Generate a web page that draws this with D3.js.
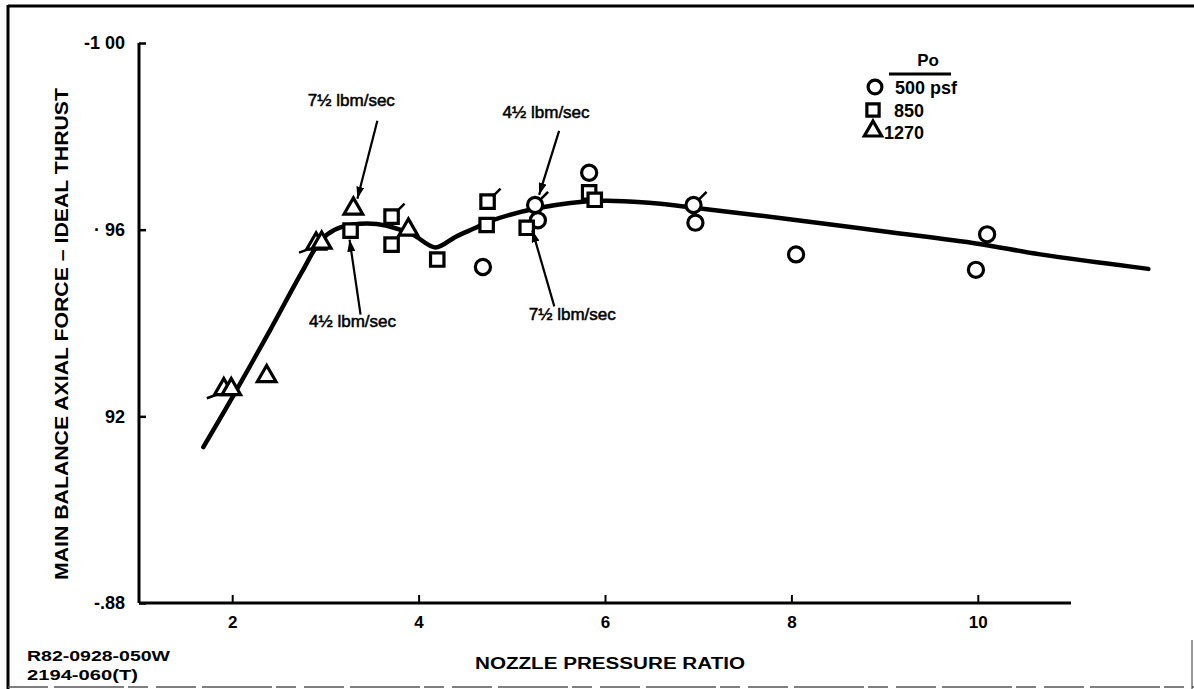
<!DOCTYPE html>
<html>
<head>
<meta charset="utf-8">
<script src="https://cdn.jsdelivr.net/npm/d3@7"></script>
<style>
  html, body { margin: 0; padding: 0; background: #fff; }
  svg { display: block; }
  text { font-family: "Liberation Sans", Arial, Helvetica, sans-serif; font-weight: bold; fill: #000; }
</style>
</head>
<body>
<svg id="chart" width="1194" height="689"></svg>
<script>
// ---------- data ----------
const xTicks = [2, 4, 6, 8, 10];
const yTicks = [1.00, 0.96, 0.92, 0.88];
const yTickLabels = ["-1 00", "\u00b7 96", "92", "-.88"];

// Po = 500 psf (circles): [NPR, force ratio, flag]
const circleData = [
  [4.69, 0.9520, 0], [5.25, 0.9653, 1], [5.28, 0.9620, 0], [5.83, 0.9722, 0],
  [6.95, 0.9653, 1], [6.97, 0.9615, 0], [8.05, 0.9547, 0], [9.98, 0.9514, 0],
  [10.10, 0.9590, 0]
];
// Po = 850 (squares)
const squareData = [
  [3.27, 0.9598, 0], [3.71, 0.9628, 1], [3.71, 0.9568, 0], [4.20, 0.9536, 0],
  [4.74, 0.9660, 1], [4.73, 0.9610, 0], [5.16, 0.9604, 0], [5.83, 0.9680, 0],
  [5.89, 0.9664, 0]
];
// Po = 1270 (triangles)
const triangleData = [
  [1.91, 0.9258, 2], [1.99, 0.9258, 0], [2.37, 0.9286, 0], [2.90, 0.9570, 2],
  [2.96, 0.9572, 0], [3.30, 0.9645, 0], [3.89, 0.9600, 0]
];

// faired curve
const curveX = [1.69, 2.00, 2.41, 2.75, 2.95, 3.10, 3.30, 3.55, 3.80, 3.95, 4.18, 4.40, 4.60, 4.75, 5.30, 5.95, 6.50, 7.00, 8.00, 9.00, 10.00, 10.67, 11.83];
const curveY = [0.9134, 0.9240, 0.9386, 0.9510, 0.9577, 0.9600, 0.9611, 0.9612, 0.9600, 0.9588, 0.9562, 0.9585, 0.9603, 0.9617, 0.9647, 0.9662, 0.9657, 0.9646, 0.9622, 0.9596, 0.9570, 0.9547, 0.9516];

const legendLabels = ["500 psf", "850", "1270"];
const legendTitle = "Po";

// annotations: label, target point (x, y in data units)
const annoLabels = ["7\u00bd lbm/sec", "4\u00bd lbm/sec", "4\u00bd lbm/sec", "7\u00bd lbm/sec"];
const annoTargets = [[3.30, 0.9645], [3.27, 0.9598], [5.25, 0.9653], [5.22, 0.9620]];

// ---------- layout ----------
const svg = d3.select("#chart");
const x = d3.scaleLinear().domain([1, 11]).range([139, 1071]);
const y = d3.scaleLinear().domain([0.88, 1.00]).range([603, 43]);

// frame
svg.append("line").attr("x1", 8).attr("x2", 1194).attr("y1", 6).attr("y2", 6).attr("stroke", "#000").attr("stroke-width", 3);
svg.append("line").attr("x1", 8).attr("x2", 8).attr("y1", 5).attr("y2", 689).attr("stroke", "#000").attr("stroke-width", 3);
svg.append("line").attr("x1", 8).attr("x2", 1194).attr("y1", 687).attr("y2", 687).attr("stroke", "#555").attr("stroke-width", 1.5).attr("stroke-dasharray", "40 6 70 4 20 8");
svg.append("line").attr("x1", 1192).attr("x2", 1192).attr("y1", 640).attr("y2", 689).attr("stroke", "#333").attr("stroke-width", 1);

// axes
const xAxis = d3.axisBottom(x).tickValues(xTicks).tickSize(-8).tickPadding(13).tickFormat(d3.format("d"));
const gx = svg.append("g").attr("transform", `translate(0,${y(0.88)})`).call(xAxis);
gx.select(".domain").attr("stroke", "#000").attr("stroke-width", 3).attr("d", `M${x(1)},0H${x(11)}`);
gx.selectAll(".tick line").attr("stroke", "#000").attr("stroke-width", 2);
gx.selectAll(".tick text").style("font-size", "17px").attr("font-family", null);

const yAxis = d3.axisLeft(y).tickValues(yTicks).tickSize(-7).tickPadding(14)
  .tickFormat((d, i) => yTickLabels[i]);
const gy = svg.append("g").attr("transform", `translate(${x(1)},0)`).call(yAxis);
gy.select(".domain").attr("stroke", "#000").attr("stroke-width", 3).attr("d", `M0,${y(1.00)}V${y(0.88)}`);
gy.selectAll(".tick line").attr("stroke", "#000").attr("stroke-width", 2.5);
gy.selectAll(".tick text").style("font-size", "18px").attr("font-family", null);

// axis titles
svg.append("text").attr("transform", `translate(68,334) rotate(-90)`)
  .attr("text-anchor", "middle").style("font-size", "18px")
  .attr("textLength", 492).attr("lengthAdjust", "spacingAndGlyphs")
  .text("MAIN BALANCE AXIAL FORCE \u2013 IDEAL THRUST");
svg.append("text").attr("x", 610).attr("y", 669).attr("text-anchor", "middle")
  .style("font-size", "16px").attr("textLength", 270).attr("lengthAdjust", "spacingAndGlyphs")
  .text("NOZZLE PRESSURE RATIO");
svg.append("text").attr("x", 27).attr("y", 661).style("font-size", "15px")
  .attr("textLength", 143).attr("lengthAdjust", "spacingAndGlyphs").text("R82-0928-050W");
svg.append("text").attr("x", 27).attr("y", 680).style("font-size", "15px")
  .attr("textLength", 111).attr("lengthAdjust", "spacingAndGlyphs").text("2194-060(T)");

// curve
const curvePts = curveX.map((v, i) => [v, curveY[i]]);
svg.append("path").datum(curvePts)
  .attr("d", d3.line().x(d => x(d[0])).y(d => y(d[1])).curve(d3.curveCatmullRom.alpha(0.5)))
  .attr("fill", "none").attr("stroke", "#000").attr("stroke-width", 4.5).attr("stroke-linecap", "round");

// markers
const symCircle = d3.symbol().type(d3.symbolCircle).size(180);
const symSquare = d3.symbol().type(d3.symbolSquare).size(180);
const symTri = d3.symbol().type(d3.symbolTriangle).size(150);

function drawSet(data, sym, cls) {
  const g = svg.append("g").attr("class", cls);
  g.selectAll("path.m").data(data).join("path").attr("class", "m")
    .attr("transform", d => `translate(${x(d[0])},${y(d[1])})`)
    .attr("d", sym).attr("fill", "#fff").attr("stroke", "#000").attr("stroke-width", 3.2);
  g.selectAll("line.f1").data(data.filter(d => d[2] === 1)).join("line").attr("class", "f1")
    .attr("x1", d => x(d[0]) + 5).attr("y1", d => y(d[1]) - 5)
    .attr("x2", d => x(d[0]) + 13).attr("y2", d => y(d[1]) - 13)
    .attr("stroke", "#000").attr("stroke-width", 2.5);
  g.selectAll("line.f2").data(data.filter(d => d[2] === 2)).join("line").attr("class", "f2")
    .attr("x1", d => x(d[0]) - 6).attr("y1", d => y(d[1]) + 5)
    .attr("x2", d => x(d[0]) - 17).attr("y2", d => y(d[1]) + 9)
    .attr("stroke", "#000").attr("stroke-width", 2.5);
}
drawSet(circleData, symCircle, "circles");
drawSet(squareData, symSquare, "squares");
drawSet(triangleData, symTri, "triangles");

// annotations (text offset and arrow start relative to target, px)
const annoLayout = [
  { tx: -2, ty: -103, sx: 24, sy: -88, ex: 4, ey: -10 },
  { tx: 2, ty: 96, sx: 10, sy: 84, ex: -1, ey: 9 },
  { tx: 11, ty: -87, sx: 24, sy: -74, ex: 4, ey: -10 },
  { tx: 40, ty: 100, sx: 22, sy: 86, ex: 0, ey: 10 }
];
const defs = svg.append("defs");
defs.append("marker").attr("id", "ah").attr("viewBox", "0 0 12 8").attr("refX", 12).attr("refY", 4)
  .attr("markerWidth", 12).attr("markerHeight", 8).attr("markerUnits", "userSpaceOnUse").attr("orient", "auto")
  .append("path").attr("d", "M0,0L12,4L0,8Z").attr("fill", "#000");
annoLabels.forEach((lab, i) => {
  const px = x(annoTargets[i][0]), py = y(annoTargets[i][1]);
  const L = annoLayout[i];
  svg.append("text").attr("x", px + L.tx).attr("y", py + L.ty).attr("text-anchor", "middle")
    .style("font-size", "16px").style("font-weight", "normal").style("stroke", "#000").style("stroke-width", 0.5)
    .attr("textLength", 87).attr("lengthAdjust", "spacingAndGlyphs").text(lab);
  svg.append("line").attr("x1", px + L.sx).attr("y1", py + L.sy).attr("x2", px + L.ex).attr("y2", py + L.ey)
    .attr("stroke", "#000").attr("stroke-width", 2.2).attr("marker-end", "url(#ah)");
});

// legend
const lg = svg.append("g");
lg.append("text").attr("x", 928).attr("y", 66).attr("text-anchor", "middle").style("font-size", "17px").text(legendTitle);
lg.append("line").attr("x1", 889).attr("x2", 951).attr("y1", 74).attr("y2", 74).attr("stroke", "#000").attr("stroke-width", 3);
const legSyms = [d3.symbol().type(d3.symbolCircle).size(150), d3.symbol().type(d3.symbolSquare).size(150), d3.symbol().type(d3.symbolTriangle).size(130)];
const legPos = [[875, 87, 895, 94], [873, 110, 894, 117], [873, 131, 884, 139]];
legendLabels.forEach((t, i) => {
  const p = legPos[i];
  lg.append("path").attr("transform", `translate(${p[0]},${p[1]})`).attr("d", legSyms[i])
    .attr("fill", "#fff").attr("stroke", "#000").attr("stroke-width", 3.2);
  lg.append("text").attr("x", p[2]).attr("y", p[3]).style("font-size", "18px").text(t);
});
</script>
</body>
</html>
